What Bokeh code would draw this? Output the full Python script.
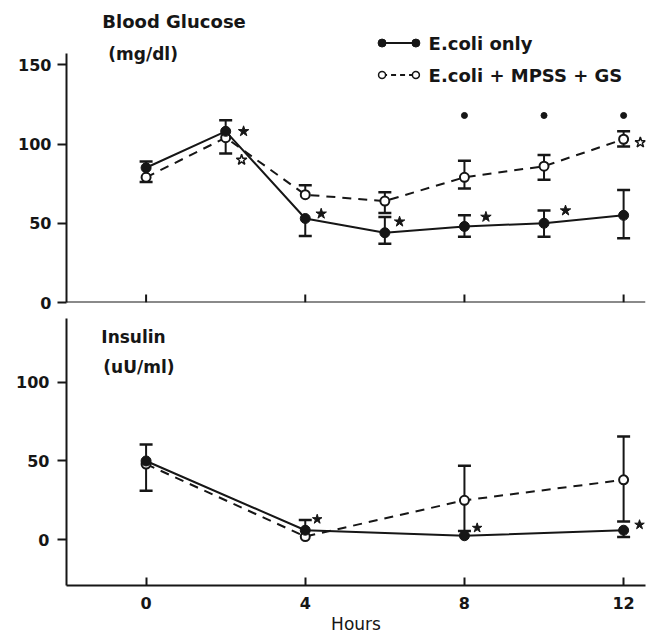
import math
from bokeh.plotting import figure
from bokeh.models import Whisker, ColumnDataSource, FixedTicker, Label, TeeHead, Span
from bokeh.layouts import column
from bokeh.embed import file_html
from bokeh.resources import INLINE

NaN = float("nan")

# ---------------- data: Blood glucose (mg/dl) ----------------
glu_hours = [0, 2, 4, 6, 8, 10, 12]
glu_ecoli = [85, 108, 53, 44, 48, 50, 55]
glu_ecoli_hi = [89, 115, NaN, 54, 55, 58, 71]
glu_ecoli_lo = [NaN, NaN, 42, 37, 41.5, 41.5, 40.5]
glu_mpss = [79, 104, 68, 64, 79, 86, 103]
glu_mpss_hi = [NaN, NaN, 74, 69.5, 89.5, 93, 108]
glu_mpss_lo = [76, 94, NaN, 56.5, 72, 77.5, 98.5]
glu_dot_hours = [8, 10, 12]
glu_dot_vals = [118, 118, 118]
glu_star_hours = [2.45, 4.4, 6.37, 8.54, 10.54]
glu_star_vals = [108, 56, 51, 54, 58]
glu_ostar_hours = [2.4, 12.42]
glu_ostar_vals = [90, 101]

# ---------------- data: Insulin (uU/ml) ----------------
ins_hours = [0, 4, 8, 12]
ins_ecoli = [50, 6, 2.5, 6]
ins_ecoli_hi = [60.5, 12.5, NaN, NaN]
ins_ecoli_lo = [NaN, NaN, NaN, 1.7]
ins_mpss = [48, 2, 25, 38]
ins_mpss_hi = [NaN, NaN, 47, 65.5]
ins_mpss_lo = [31, NaN, 5.5, 11.6]
ins_star_hours = [4.3, 8.32, 12.4]
ins_star_vals = [13, 7.5, 9.5]

x_ticks = [0, 4, 8, 12]
glu_ticks = [0, 50, 100, 150]
ins_ticks = [0, 50, 100]

INK = "#161616"
FONT = "DejaVu Sans"
DASH = "9 7"
GLU_PX = 1.585   # pixels per mg/dl
INS_PX = 1.58    # pixels per uU/ml


def err_bars(p, xs, ys, ends, upper):
    pts = [(x, y, e) for x, y, e in zip(xs, ys, ends) if not math.isnan(e)]
    src = ColumnDataSource(dict(
        x=[a for a, _, _ in pts],
        lo=[min(b, c) for _, b, c in pts],
        hi=[max(b, c) for _, b, c in pts],
    ))
    head = TeeHead(size=13, line_width=2.5, line_color=INK)
    w = Whisker(base="x", lower="lo", upper="hi", source=src, dimension="height",
                line_color=INK, line_width=2, level="underlay",
                upper_head=head if upper else None,
                lower_head=None if upper else head)
    p.add_layout(w)


def style_y(p, ticks, standoff):
    p.grid.visible = False
    p.outline_line_color = None
    p.background_fill_color = "white"
    p.border_fill_color = "white"
    for ax in p.yaxis:
        ax.ticker = FixedTicker(ticks=ticks)
        ax.axis_line_color = INK
        ax.axis_line_width = 2
        ax.major_tick_line_color = INK
        ax.major_tick_line_width = 2
        ax.major_tick_out = 9
        ax.major_tick_in = 0
        ax.minor_tick_line_color = None
        ax.major_label_standoff = standoff
        ax.major_label_text_font = FONT
        ax.major_label_text_font_style = "bold"
        ax.major_label_text_font_size = "16px"
        ax.major_label_text_color = INK


def add_text(p, x, y, txt, size="17px", bold=True):
    p.add_layout(Label(x=x, y=y, text=txt, text_font=FONT,
                       text_font_style="bold" if bold else "normal",
                       text_font_size=size, text_color=INK,
                       text_baseline="middle", text_align="left"))


# ---------------- top panel ----------------
top = figure(width=650, height=318, x_range=(-2, 12.55), y_range=(0, 302 / GLU_PX),
             output_backend="svg", toolbar_location=None,
             min_border_left=66, min_border_right=2, min_border_top=0, min_border_bottom=16)
style_y(top, glu_ticks, 6)
top.yaxis.bounds = (0, 157)
top.xaxis.visible = False
# x axis line of the upper panel with inward ticks
top.add_layout(Span(location=0, dimension="width", line_color=INK, line_width=2))
top.segment(x0=x_ticks, y0=[0] * len(x_ticks), x1=x_ticks, y1=[8 / GLU_PX] * len(x_ticks),
            line_color=INK, line_width=2)

err_bars(top, glu_hours, glu_ecoli, glu_ecoli_hi, True)
err_bars(top, glu_hours, glu_ecoli, glu_ecoli_lo, False)
err_bars(top, glu_hours, glu_mpss, glu_mpss_hi, True)
err_bars(top, glu_hours, glu_mpss, glu_mpss_lo, False)

top.line(glu_hours, glu_mpss, line_color=INK, line_width=2, line_dash=DASH)
top.line(glu_hours, glu_ecoli, line_color=INK, line_width=2)
top.scatter(glu_hours, glu_mpss, marker="circle", size=9, fill_color="white",
            line_color=INK, line_width=2)
top.scatter(glu_hours, glu_ecoli, marker="circle", size=10, fill_color=INK, line_color=INK)
top.scatter(glu_dot_hours, glu_dot_vals, marker="circle", size=6, fill_color=INK, line_color=INK)
top.scatter(glu_star_hours, glu_star_vals, marker="star", size=11, fill_color=INK, line_color=INK)
top.scatter(glu_ostar_hours, glu_ostar_vals, marker="star", size=11, fill_color="white",
            line_color=INK, line_width=1.5)

add_text(top, -1.1, 177, "Blood Glucose", "18px")
add_text(top, -0.95, 156.5, "(mg/dl)", "17px")

# legend (drawn sample marks + text)
leg_x = [5.93, 6.78]
top.line(leg_x, [163.7, 163.7], line_color=INK, line_width=2)
top.scatter(leg_x, [163.7, 163.7], marker="circle", size=8, fill_color=INK, line_color=INK)
top.line(leg_x, [143.5, 143.5], line_color=INK, line_width=2, line_dash="5 4")
top.scatter(leg_x, [143.5, 143.5], marker="circle", size=7, fill_color="white",
            line_color=INK, line_width=1.5)
add_text(top, 7.1, 163.7, "E.coli only", "18px")
add_text(top, 7.1, 143.5, "E.coli + MPSS + GS", "18px")

# ---------------- bottom panel ----------------
bot = figure(width=650, height=318, x_range=(-2, 12.55),
             y_range=(-46 / INS_PX, 222 / INS_PX),
             output_backend="svg", toolbar_location=None,
             min_border_left=63, min_border_right=5, min_border_top=0, min_border_bottom=50)
style_y(bot, ins_ticks, 8)
ax = bot.xaxis[0]
ax.ticker = FixedTicker(ticks=x_ticks)
ax.axis_line_color = INK
ax.axis_line_width = 2
ax.major_tick_line_color = INK
ax.major_tick_line_width = 2
ax.major_tick_out = 0
ax.major_tick_in = 8
ax.minor_tick_line_color = None
ax.major_label_standoff = 11
ax.major_label_text_font = FONT
ax.major_label_text_font_style = "bold"
ax.major_label_text_font_size = "16px"
ax.major_label_text_color = INK
ax.axis_label = "Hours"
ax.axis_label_standoff = 2
ax.axis_label_text_font = FONT
ax.axis_label_text_font_style = "normal"
ax.axis_label_text_font_size = "17px"
ax.axis_label_text_color = INK

err_bars(bot, ins_hours, ins_ecoli, ins_ecoli_hi, True)
err_bars(bot, ins_hours, ins_ecoli, ins_ecoli_lo, False)
err_bars(bot, ins_hours, ins_mpss, ins_mpss_hi, True)
err_bars(bot, ins_hours, ins_mpss, ins_mpss_lo, False)

bot.line(ins_hours, ins_mpss, line_color=INK, line_width=2, line_dash=DASH)
bot.line(ins_hours, ins_ecoli, line_color=INK, line_width=2)
bot.scatter(ins_hours, ins_mpss, marker="circle", size=9, fill_color="white",
            line_color=INK, line_width=2)
bot.scatter(ins_hours, ins_ecoli, marker="circle", size=10, fill_color=INK, line_color=INK)
bot.scatter(ins_star_hours, ins_star_vals, marker="star", size=10, fill_color=INK, line_color=INK)

add_text(bot, -1.125, 128.5, "Insulin", "17px")
add_text(bot, -1.075, 109.5, "(uU/ml)", "17px")

layout = column(top, bot, spacing=0)
open("out.html", "w").write(file_html(layout, INLINE))
